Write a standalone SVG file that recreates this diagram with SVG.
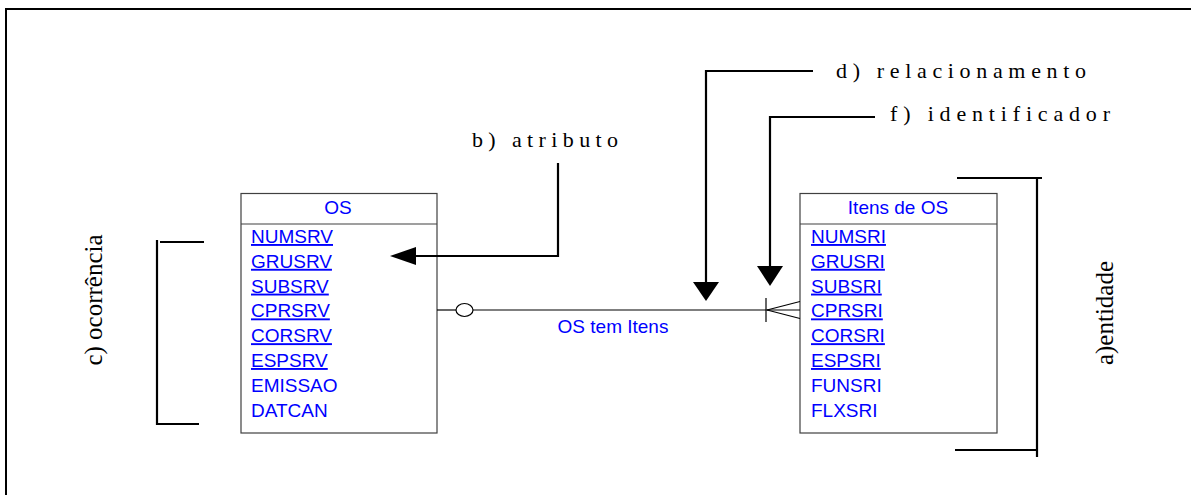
<svg xmlns="http://www.w3.org/2000/svg" width="1191" height="495" viewBox="0 0 1191 495">
<defs>
<style>
.frame{fill:none;stroke:#000;stroke-width:2}
.tbl{fill:#fff;stroke:#404040;stroke-width:1.2}
.sep{stroke:#404040;stroke-width:1.2}
.hdr{font-family:"Liberation Sans",Arial,sans-serif;font-size:19px;fill:#0000ff;text-anchor:middle}
.attr{font-family:"Liberation Sans",Arial,sans-serif;font-size:19px;fill:#0000ff}
.key{text-decoration:underline}
.ann{font-family:"Liberation Serif","Times New Roman",serif;font-size:22px;fill:#000}
.rot{font-family:"Liberation Serif","Times New Roman",serif;font-size:25px;fill:#000;text-anchor:middle}
.bk{fill:none;stroke:#000;stroke-width:2.2}
.rel{fill:none;stroke:#000;stroke-width:1.2}
.lbl{font-family:"Liberation Sans",Arial,sans-serif;font-size:19px;fill:#0000ff;text-anchor:middle}
</style>
</defs>
<rect width="1191" height="495" fill="#fff"/>
<path class="frame" d="M6,496 V9 H1192"/>

<g id="entity-os">
<rect class="tbl" x="241" y="193.5" width="196" height="239.5"/>
<line class="sep" x1="241" y1="224" x2="437" y2="224"/>
<text class="hdr" x="338" y="214">OS</text>
<text class="attr key" x="251" y="243">NUMSRV</text>
<text class="attr key" x="251" y="267.8">GRUSRV</text>
<text class="attr key" x="251" y="292.6">SUBSRV</text>
<text class="attr key" x="251" y="317.4">CPRSRV</text>
<text class="attr key" x="251" y="342.2">CORSRV</text>
<text class="attr key" x="251" y="367">ESPSRV</text>
<text class="attr" x="251" y="391.8">EMISSAO</text>
<text class="attr" x="251" y="416.6">DATCAN</text>
</g>

<g id="entity-itens">
<rect class="tbl" x="800" y="193.5" width="197" height="239.5"/>
<line class="sep" x1="800" y1="224" x2="997" y2="224"/>
<text class="hdr" x="898" y="214">Itens de OS</text>
<text class="attr key" x="811" y="243">NUMSRI</text>
<text class="attr key" x="811" y="267.8">GRUSRI</text>
<text class="attr key" x="811" y="292.6">SUBSRI</text>
<text class="attr key" x="811" y="317.4">CPRSRI</text>
<text class="attr key" x="811" y="342.2">CORSRI</text>
<text class="attr key" x="811" y="367">ESPSRI</text>
<text class="attr" x="811" y="391.8">FUNSRI</text>
<text class="attr" x="811" y="416.6">FLXSRI</text>
</g>

<g id="connectors">
<g id="rel-os-tem-itens">
<line class="rel" x1="437" y1="310" x2="456" y2="310"/>
<ellipse class="rel" cx="464.5" cy="310" rx="8.5" ry="6.5" fill="#fff"/>
<line class="rel" x1="473" y1="310" x2="800" y2="310"/>
<line class="rel" x1="766" y1="298" x2="766" y2="322"/>
<line class="rel" x1="767" y1="310" x2="800" y2="301.5"/>
<line class="rel" x1="767" y1="310" x2="800" y2="318.5"/>
<text class="lbl" x="613" y="333">OS tem Itens</text>
</g>
<g id="arrow-atributo">
<path class="bk" d="M558,163 V256 H414"/>
<polygon points="390,256 416,247 416,265" fill="#000"/>
</g>
<g id="arrow-relacionamento">
<path class="bk" d="M813,71 H706 V284"/>
<polygon points="706,301 693,282 719,282" fill="#000"/>
</g>
<g id="arrow-identificador">
<path class="bk" d="M875,117 H770 V268"/>
<polygon points="770,286 757,266 783,266" fill="#000"/>
</g>
<g id="bracket-ocorrencia">
<path class="bk" d="M204,242 H160 M157,240 V425 M157,424 H199"/>
</g>
<g id="bracket-entidade">
<path class="bk" d="M957,178 H1042 M1037,178 V457 M955,450 H1037"/>
</g>
</g>

<g id="annotations">
<text class="ann" x="472" y="147" textLength="146" lengthAdjust="spacing">b) atributo</text>
<text class="ann" x="836" y="78" textLength="250" lengthAdjust="spacing">d) relacionamento</text>
<text class="ann" x="890" y="121" textLength="220" lengthAdjust="spacing">f) identificador</text>
<text class="rot" transform="translate(102,300) rotate(-90)">c) ocorrência</text>
<text class="rot" transform="translate(1113,313) rotate(-90)">a)entidade</text>
</g>
</svg>
